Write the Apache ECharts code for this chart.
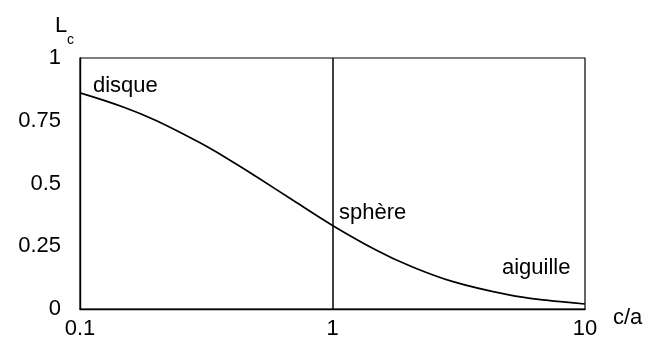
<!DOCTYPE html>
<html>
<head>
<meta charset="utf-8">
<script src="https://cdn.jsdelivr.net/npm/echarts@6/dist/echarts.min.js"></script>
<style>
  html, body { margin: 0; padding: 0; background: #fff; }
  #chart { width: 652px; height: 340px; }
</style>
</head>
<body>
<div id="chart"></div>
<script>
  // rapport c/a (axe log)
  var ratios = [0.1, 0.15, 0.2, 0.3, 0.4, 0.5, 0.7, 1, 1.5, 2, 3, 5, 7, 10];
  // facteur de dépolarisation L_c
  var lcValues = [0.861, 0.803, 0.751, 0.661, 0.588, 0.527, 0.432, 0.333, 0.233, 0.174, 0.109, 0.056, 0.035, 0.020];
  var yTicks = [0, 0.25, 0.5, 0.75, 1];
  var xTicks = [0.1, 1, 10];
  var shapeNames = ['disque', 'sphère', 'aiguille'];

  var font = '"Liberation Sans", Arial, sans-serif';
  var fs = 22;
  var ink = '#000';
  var chart = echarts.init(document.getElementById('chart'));
  chart.setOption({
    animation: false,
    backgroundColor: '#fff',
    grid: {
      left: 80, right: 67, top: 58, bottom: 31,
      show: true, borderColor: ink, borderWidth: 1.2
    },
    xAxis: {
      type: 'log', min: 0.1, max: 10, logBase: 10,
      axisLine: {lineStyle: {color: ink, width: 1.4}},
      axisTick: {show: false},
      splitLine: {show: false},
      minorTick: {show: false},
      axisLabel: {
        color: ink, fontFamily: font, fontSize: fs, margin: 9,
        formatter: function (v) {
          var n = +v.toPrecision(3);
          return xTicks.indexOf(n) >= 0 ? String(n) : '';
        }
      }
    },
    yAxis: {
      type: 'value', min: 0, max: 1, interval: 0.25,
      axisLine: {show: true, lineStyle: {color: ink, width: 1.4}},
      axisTick: {show: false},
      splitLine: {show: false},
      axisLabel: {
        color: ink, fontFamily: font, fontSize: fs, margin: 19,
        formatter: function (v) { return yTicks.indexOf(v) >= 0 ? String(v) : ''; }
      }
    },
    series: [{
      type: 'line',
      data: ratios.map(function (r, i) { return [r, lcValues[i]]; }),
      smooth: 0.4,
      showSymbol: false,
      lineStyle: {color: ink, width: 1.7},
      markLine: {
        silent: true, symbol: 'none', label: {show: false},
        lineStyle: {color: ink, width: 1.5, type: 'solid'},
        data: [{xAxis: 1}]
      }
    }],
    graphic: [
      {type: 'text', left: 55, top: 15, style: {text: 'L', fill: ink, font: fs + 'px ' + font}},
      {type: 'text', left: 67, top: 33, style: {text: 'c', fill: ink, font: '14px ' + font}},
      {type: 'text', left: 613, top: 307, style: {text: 'c/a', fill: ink, font: fs + 'px ' + font}},
      {type: 'text', left: 93, top: 75, style: {text: shapeNames[0], fill: ink, font: fs + 'px ' + font}},
      {type: 'text', left: 339, top: 202, style: {text: shapeNames[1], fill: ink, font: fs + 'px ' + font}},
      {type: 'text', left: 502, top: 257, style: {text: shapeNames[2], fill: ink, font: fs + 'px ' + font}}
    ]
  });
</script>
</body>
</html>
